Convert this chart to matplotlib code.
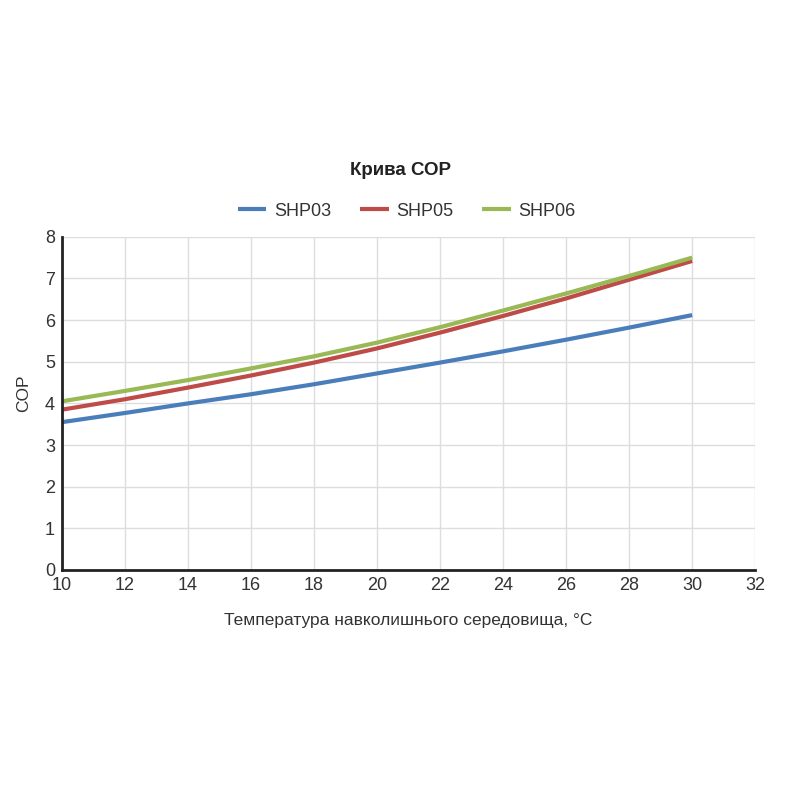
import matplotlib.pyplot as plt

# Values
temps = [10, 12, 14, 16, 18, 20, 22, 24, 26, 28, 30]
shp03 = [3.55, 3.77, 4.0, 4.22, 4.46, 4.72, 4.98, 5.25, 5.53, 5.82, 6.12]
shp05 = [3.85, 4.1, 4.38, 4.67, 4.98, 5.32, 5.7, 6.1, 6.52, 6.97, 7.42]
shp06 = [4.05, 4.3, 4.56, 4.84, 5.13, 5.46, 5.83, 6.23, 6.64, 7.06, 7.5]
series_names = ["SHP03", "SHP05", "SHP06"]
colors = ["#4a7ebb", "#be4b48", "#98b954"]


def main():
    plt.rcParams["font.family"] = ["Liberation Sans", "DejaVu Sans"]
    fig = plt.figure(figsize=(8, 8), dpi=100)
    ax = fig.add_axes([0.0775, 0.2875, 0.8665, 0.4165])

    for values, name, color in zip([shp03, shp05, shp06], series_names, colors):
        ax.plot(temps, values, color=color, linewidth=3, label=name,
                solid_capstyle="butt")

    ax.set_xlim(10, 32)
    ax.set_ylim(0, 8)
    ax.set_xticks(range(10, 33, 2))
    ax.set_yticks(range(0, 9))
    ax.grid(True, color="#dddddd", linewidth=1)
    ax.set_axisbelow(True)
    for side in ["top", "right"]:
        ax.spines[side].set_visible(False)
    for side in ["left", "bottom"]:
        ax.spines[side].set_linewidth(2)
        ax.spines[side].set_color("#222222")
    ax.tick_params(length=0, labelsize=13, labelcolor="#333333", pad=5)

    ax.set_xlabel("Температура навколишнього середовища, °C", fontsize=12.5,
                  color="#333333", labelpad=14)
    ax.set_ylabel("COP", fontsize=12.5, color="#333333")
    ax.yaxis.set_label_coords(-0.045, 0.53)

    fig.text(0.5, 0.787, "Крива СОР", ha="center", va="center",
             fontsize=13.5, fontweight="bold", color="#222222")
    fig.legend(loc="center", bbox_to_anchor=(0.508, 0.736), ncol=3,
               frameon=False, fontsize=13, handlelength=1.6,
               handletextpad=0.4, columnspacing=1.6, labelcolor="#333333")

    fig.savefig("out.png", dpi=100, facecolor="white")


if __name__ == "__main__":
    main()
